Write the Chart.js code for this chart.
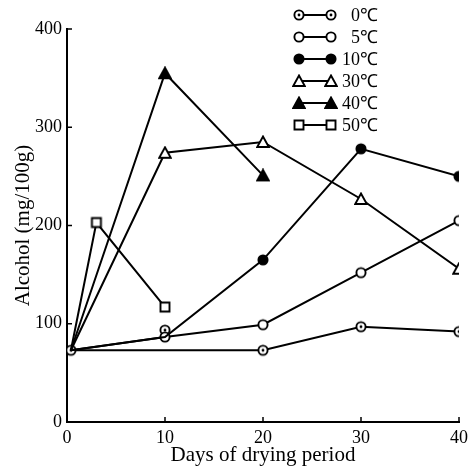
<!DOCTYPE html>
<html>
<head>
<meta charset="utf-8">
<script src="https://cdn.jsdelivr.net/npm/chart.js@4/dist/chart.umd.min.js"></script>
<style>
	body { margin:0; background:#fff; }
	#wrap { width:472px; height:468px; }
</style>
</head>
<body>
<div id="wrap"><canvas id="chart" width="472" height="468"></canvas></div>
<script>
// days and alcohol values
var days0 = [0.4, 20, 30, 40];
var alc0 = [73, 73, 97, 92];
var days0extra = [10];
var alc0extra = [93.5];
var days5 = [0.4, 10, 20, 30, 40];
var alc5 = [73, 86.5, 99, 152, 205];
var days10 = [0.4, 10, 20, 30, 40];
var alc10 = [73, 86.5, 165, 278, 250];
var days30 = [0.4, 10, 20, 30, 40];
var alc30 = [73, 274, 285, 227, 156];
var days40 = [0.4, 10, 20];
var alc40 = [73, 355, 251];
var days50 = [0.4, 3, 10];
var alc50 = [73, 203, 117];

var legendLabels = ['0℃', '5℃', '10℃', '30℃', '40℃', '50℃'];
var xTicks = [0, 10, 20, 30, 40];
var yTicks = [0, 100, 200, 300, 400];

// small canvases used as point styles (and again in the legend)
function makeMarker(kind)
{
	var c = document.createElement('canvas');
	c.width = 14; c.height = 14;
	var g = c.getContext('2d');
	g.strokeStyle = '#000';
	g.fillStyle = '#fff';
	g.lineWidth = 1.9;
	g.beginPath();
	if(kind == 'dotcircle' || kind == 'opencircle' || kind == 'fillcircle')
	{
		g.arc(7, 7, 4.6, 0, Math.PI * 2);
		if(kind == 'fillcircle') g.fillStyle = '#000';
		g.fill(); g.stroke();
		if(kind == 'dotcircle')
		{
			g.beginPath();
			g.fillStyle = '#000';
			g.arc(7, 7, 1.4, 0, Math.PI * 2);
			g.fill();
		}
	}
	else if(kind == 'opentri' || kind == 'filltri')
	{
		g.moveTo(7, 1.5);
		g.lineTo(12.8, 12);
		g.lineTo(1.2, 12);
		g.closePath();
		if(kind == 'filltri') g.fillStyle = '#000';
		g.fill(); g.stroke();
	}
	else
	{
		g.rect(2.5, 2.5, 9, 9);
		g.fill(); g.stroke();
	}
	return c;
}

var markers = {
	dot: makeMarker('dotcircle'),
	open: makeMarker('opencircle'),
	fill: makeMarker('fillcircle'),
	otri: makeMarker('opentri'),
	ftri: makeMarker('filltri'),
	sq: makeMarker('square')
};
var legendMarkers = [markers.dot, markers.open, markers.fill, markers.otri, markers.ftri, markers.sq];

function pts(xs, ys)
{
	var out = [];
	for(var i = 0; i < xs.length; i++) out.push({x: xs[i], y: ys[i]});
	return out;
}

function lineSet(label, xs, ys, marker, radii)
{
	return {
		label: label,
		data: pts(xs, ys),
		borderColor: '#000',
		borderWidth: 2,
		pointStyle: marker,
		pointRadius: radii,
		pointHoverRadius: radii,
		showLine: true,
		tension: 0
	};
}

// inward tick marks on both axes
var innerTicks = {
	id: 'innerTicks',
	afterDraw: function(chart) {
		var ctx = chart.ctx;
		var xs = chart.scales.x, ys = chart.scales.y;
		var area = chart.chartArea;
		ctx.save();
		ctx.strokeStyle = '#000';
		ctx.lineWidth = 1.5;
		ctx.beginPath();
		xTicks.forEach(function(v) {
			var px = xs.getPixelForValue(v);
			ctx.moveTo(px, area.bottom);
			ctx.lineTo(px, area.bottom - 5);
		});
		yTicks.forEach(function(v) {
			var py = ys.getPixelForValue(v);
			ctx.moveTo(area.left, py);
			ctx.lineTo(area.left + 5, py);
		});
		ctx.stroke();
		ctx.restore();
	}
};

// legend in the top right: marker - line - marker, then the label
var sampleLegend = {
	id: 'sampleLegend',
	afterDraw: function(chart) {
		var ctx = chart.ctx;
		ctx.save();
		ctx.font = '18px "Liberation Serif", serif';
		ctx.fillStyle = '#000';
		ctx.textAlign = 'right';
		ctx.textBaseline = 'middle';
		for(var i = 0; i < legendLabels.length; i++)
		{
			var y = 15 + i * 22;
			ctx.strokeStyle = '#000';
			ctx.lineWidth = 2;
			ctx.beginPath();
			ctx.moveTo(299, y);
			ctx.lineTo(331, y);
			ctx.stroke();
			ctx.drawImage(legendMarkers[i], 299 - 7, y - 7);
			ctx.drawImage(legendMarkers[i], 331 - 7, y - 7);
			ctx.fillText(legendLabels[i], 378, y + 1);
		}
		ctx.restore();
	}
};

var serif = '"Liberation Serif", "Times New Roman", serif';

var ctx = document.getElementById('chart').getContext('2d');
var chart = new Chart(ctx, {
	type: 'scatter',
	data: {
		datasets: [
			lineSet('50℃', days50, alc50, markers.sq, [0, 5, 5]),
			lineSet('40℃', days40, alc40, markers.ftri, [0, 5, 5]),
			lineSet('30℃', days30, alc30, markers.otri, [0, 5, 5, 5, 5]),
			lineSet('10℃', days10, alc10, markers.fill, [0, 0, 5, 5, 5]),
			lineSet('5℃', days5, alc5, markers.open, [0, 5, 5, 5, 5]),
			lineSet('0℃', days0, alc0, markers.dot, 5),
			{
				label: '0℃ 10d',
				data: pts(days0extra, alc0extra),
				pointStyle: markers.dot,
				pointRadius: 5,
				showLine: false
			}
		]
	},
	options: {
		responsive: false,
		animation: false,
		layout: { padding: { left: 0, top: 29, right: 13, bottom: 0 } },
		plugins: {
			legend: { display: false },
			tooltip: { enabled: false }
		},
		scales: {
			x: {
				type: 'linear',
				min: 0, max: 40,
				afterBuildTicks: function(s) { s.ticks = xTicks.map(function(v) { return {value: v}; }); },
				afterFit: function(s) { s.height = 46; },
				grid: { display: false },
				border: { display: true, color: '#000', width: 2 },
				ticks: { color: '#000', font: { family: serif, size: 18 }, padding: -3, maxRotation: 0 },
				title: { display: true, text: 'Days of drying period', color: '#000', font: { family: serif, size: 21 }, padding: { top: 0, bottom: 0 } }
			},
			y: {
				type: 'linear',
				min: 0, max: 400,
				afterBuildTicks: function(s) { s.ticks = yTicks.map(function(v) { return {value: v}; }); },
				afterFit: function(s) { s.width = 67; },
				grid: { display: false },
				border: { display: true, color: '#000', width: 2 },
				ticks: { color: '#000', font: { family: serif, size: 18 }, padding: -3 },
				title: { display: true, text: 'Alcohol (mg/100g)', color: '#000', font: { family: serif, size: 21 }, padding: { top: 11, bottom: 0 } }
			}
		}
	},
	plugins: [innerTicks, sampleLegend]
});
</script>
</body>
</html>
